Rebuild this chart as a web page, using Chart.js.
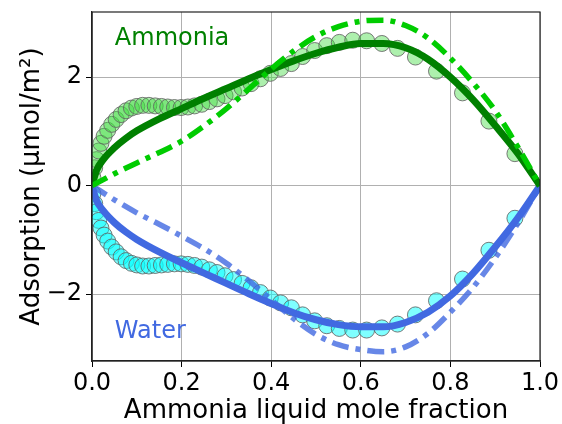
<!DOCTYPE html>
<html>
<head>
<meta charset="utf-8">
<script src="https://cdn.jsdelivr.net/npm/chart.js@4/dist/chart.umd.min.js"></script>
<style>
html,body{margin:0;padding:0;background:#fff;}
canvas{display:block;}
</style>
</head>
<body>
<canvas id="c" width="562" height="424"></canvas>
<script>
// ---- data ----
const markerX = [0.002,0.006,0.010,0.015,0.020,0.027,0.035,0.044,0.054,0.065,0.076,0.088,0.100,0.113,0.127,0.141,0.155,0.169,0.184,0.199,0.214,0.229,0.245,0.262,0.279,0.297,0.316,0.335,0.355,0.376,0.398,0.421,0.445,0.470,0.497,0.524,0.552,0.582,0.613,0.647,0.682,0.722,0.769,0.827,0.886,0.944];
const ammoniaExp = [0.15,0.33,0.48,0.64,0.78,0.91,1.02,1.13,1.22,1.31,1.38,1.43,1.46,1.48,1.48,1.47,1.46,1.45,1.44,1.44,1.45,1.47,1.50,1.55,1.60,1.66,1.73,1.80,1.88,1.97,2.07,2.16,2.25,2.38,2.49,2.58,2.64,2.68,2.67,2.62,2.53,2.37,2.11,1.71,1.19,0.59];
const waterExp = [-0.15,-0.33,-0.48,-0.64,-0.78,-0.91,-1.02,-1.13,-1.22,-1.31,-1.38,-1.43,-1.46,-1.48,-1.48,-1.47,-1.46,-1.45,-1.44,-1.44,-1.45,-1.47,-1.50,-1.55,-1.60,-1.66,-1.73,-1.80,-1.88,-1.97,-2.07,-2.16,-2.25,-2.38,-2.49,-2.58,-2.63,-2.66,-2.66,-2.62,-2.55,-2.38,-2.12,-1.72,-1.19,-0.60];

const solidX = [0,0.01,0.025,0.05,0.075,0.1,0.15,0.2,0.25,0.3,0.35,0.4,0.45,0.5,0.55,0.6,0.65,0.7,0.75,0.8,0.85,0.9,0.95,1.0];
const ammoniaSolid = [0,0.28,0.48,0.70,0.87,1.01,1.23,1.42,1.61,1.79,1.97,2.14,2.30,2.44,2.55,2.62,2.62,2.54,2.33,2.00,1.59,1.11,0.60,0];
const waterSolid = [0,-0.27,-0.46,-0.68,-0.85,-0.99,-1.22,-1.42,-1.61,-1.80,-1.99,-2.17,-2.34,-2.47,-2.56,-2.60,-2.60,-2.52,-2.33,-2.03,-1.62,-1.13,-0.60,0];

const dashX = [0,0.05,0.1,0.15,0.2,0.25,0.3,0.35,0.4,0.45,0.5,0.55,0.6,0.65,0.7,0.75,0.8,0.85,0.9,0.95,1.0];
const ammoniaDash = [0,0.22,0.42,0.61,0.82,1.10,1.42,1.78,2.15,2.48,2.75,2.93,3.03,3.05,2.95,2.72,2.35,1.90,1.38,0.72,0];
const waterDash = [0,-0.26,-0.50,-0.71,-0.93,-1.16,-1.43,-1.75,-2.10,-2.45,-2.74,-2.93,-3.02,-3.06,-2.97,-2.72,-2.33,-1.88,-1.33,-0.70,0];

const xTicks = [0,0.2,0.4,0.6,0.8,1.0];
const yTicks = [-2,0,2];
const xLabel = 'Ammonia liquid mole fraction';
const yLabel = 'Adsorption (μmol/m²)';
const ammoniaLabel = 'Ammonia';
const waterLabel = 'Water';

const pts = (xs, ys) => xs.map((x,i)=>({x:x,y:ys[i]}));
const FONT = "'DejaVu Sans', sans-serif";

const frame = {
  id:'frame',
  afterDatasetsDraw(chart){
    const {ctx, chartArea:a, scales} = chart;
    ctx.save();
    ctx.strokeStyle = '#222';
    ctx.lineWidth = 1.2;
    ctx.strokeRect(a.left, a.top, a.right-a.left, a.bottom-a.top);
    ctx.font = "24px " + FONT;
    ctx.textBaseline = 'alphabetic';
    ctx.textAlign = 'left';
    ctx.fillStyle = 'green';
    ctx.fillText(ammoniaLabel, scales.x.getPixelForValue(0.051), scales.y.getPixelForValue(2.59));
    ctx.fillStyle = 'royalblue';
    ctx.fillText(waterLabel, scales.x.getPixelForValue(0.051), scales.y.getPixelForValue(-2.80));
    ctx.restore();
  }
};

new Chart(document.getElementById('c'), {
  type:'scatter',
  data:{
    datasets:[
      {type:'line', data:pts(dashX, ammoniaDash), borderColor:'rgb(0,204,0)', borderWidth:5.5, borderDash:[17,7,5,7], borderCapStyle:'butt', pointRadius:0, fill:false, cubicInterpolationMode:'monotone', clip:0, order:1},
      {type:'line', data:pts(dashX, waterDash), borderColor:'rgba(65,105,225,0.8)', borderWidth:5.5, borderDash:[17,7,5,7], borderCapStyle:'butt', pointRadius:0, fill:false, cubicInterpolationMode:'monotone', clip:0, order:2},
      {type:'line', data:pts(solidX, ammoniaSolid), borderColor:'green', borderWidth:7, pointRadius:0, fill:false, cubicInterpolationMode:'monotone', clip:0, order:3},
      {type:'line', data:pts(solidX, waterSolid), borderColor:'royalblue', borderWidth:7, pointRadius:0, fill:false, cubicInterpolationMode:'monotone', clip:0, order:4},
      {data:pts(markerX, ammoniaExp), pointRadius:8, pointBackgroundColor:'rgba(60,220,60,0.42)', pointBorderColor:'rgba(100,100,100,0.85)', pointBorderWidth:1, showLine:false, clip:0, order:6},
      {data:pts(markerX, waterExp), pointRadius:8, pointBackgroundColor:'rgba(0,255,255,0.5)', pointBorderColor:'rgba(100,100,100,0.85)', pointBorderWidth:1, showLine:false, clip:0, order:5}
    ]
  },
  options:{
    responsive:false,
    devicePixelRatio:1,
    animation:false,
    events:[],
    layout:{padding:{left:0,right:22,top:12,bottom:0}},
    plugins:{legend:{display:false}, tooltip:{enabled:false}},
    scales:{
      x:{
        type:'linear', min:0, max:1,
        afterBuildTicks:s=>{s.ticks = xTicks.map(v=>({value:v}));},
        afterFit:s=>{s.height = 63; s.paddingLeft = 0; s.paddingRight = 0;},
        ticks:{callback:v=>Number(v).toFixed(1), font:{size:24,family:FONT}, color:'#000', padding:2, maxRotation:0, autoSkip:false},
        grid:{color:'#b0b0b0', lineWidth:1, tickColor:'#000', tickLength:6},
        border:{display:true, color:'#222', width:1.2},
        title:{display:true, text:xLabel, font:{size:26,family:FONT,lineHeight:1.0}, color:'#000', padding:{top:0,bottom:0}}
      },
      y:{
        type:'linear', min:-3.23, max:3.20,
        afterBuildTicks:s=>{s.ticks = yTicks.map(v=>({value:v}));},
        afterFit:s=>{s.width = 92; s.paddingTop = 0; s.paddingBottom = 0;},
        ticks:{callback:v=>(v<0?'\u2212'+Math.abs(v):String(v)), font:{size:24,family:FONT}, color:'#000', padding:4, autoSkip:false},
        grid:{color:'#b0b0b0', lineWidth:1, tickColor:'#000', tickLength:6},
        border:{display:true, color:'#222', width:1.2},
        title:{display:true, text:yLabel, font:{size:26,family:FONT,lineHeight:1.0}, color:'#000', padding:{top:19,bottom:0}}
      }
    }
  },
  plugins:[frame]
});
</script>
</body>
</html>
